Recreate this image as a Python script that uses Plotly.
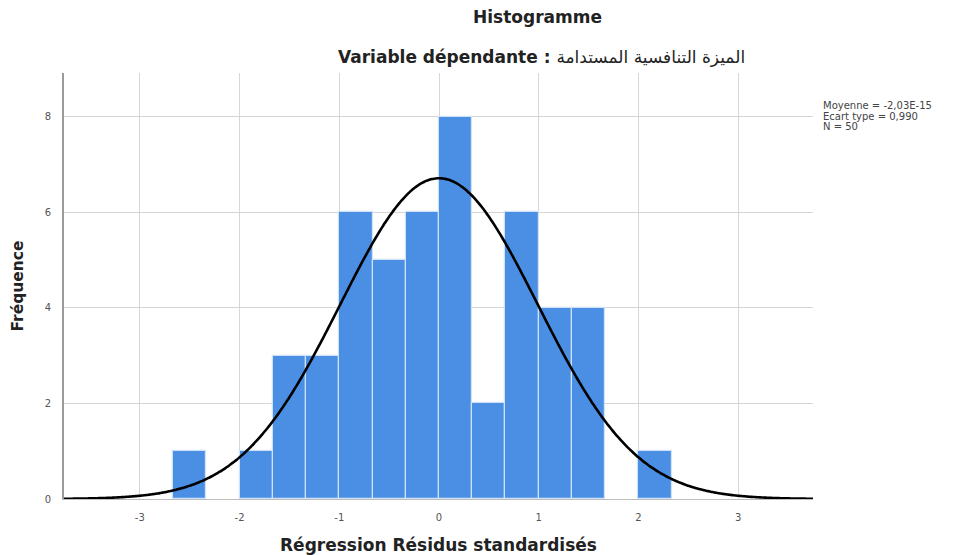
import numpy as np
import plotly.graph_objects as go

# Histogram of standardized regression residuals (bin width 1/3)
bin_left = [-8/3, -2, -5/3, -4/3, -1, -2/3, -1/3, 0, 1/3, 2/3, 1, 4/3, 2]
counts = [1, 1, 3, 3, 6, 5, 6, 8, 2, 6, 4, 4, 1]
bin_width = 1/3

# Summary statistics shown beside the plot
mean_val = -2.03e-15
std_val = 0.990
n_obs = 50

x_ticks = [-3, -2, -1, 0, 1, 2, 3]
y_ticks = [0, 2, 4, 6, 8]

x_range = [-3.76, 3.75]
y_range = [0, 8.92]

centers = [b + bin_width / 2 for b in bin_left]

# Normal curve scaled to counts
xc = np.linspace(x_range[0], x_range[1], 400)
yc = n_obs * bin_width * np.exp(-0.5 * ((xc - mean_val) / std_val) ** 2) / (std_val * np.sqrt(2 * np.pi))

fig = go.Figure()
fig.add_trace(go.Bar(
    x=centers, y=counts, width=bin_width,
    marker=dict(color="#4a8fe3", line=dict(color="#cfe2f8", width=1.2)),
    hoverinfo="x+y",
))
fig.add_trace(go.Scatter(
    x=xc, y=yc, mode="lines",
    line=dict(color="#000000", width=2.6, shape="spline"),
    hoverinfo="skip",
))

PLOT_L, PLOT_R, PLOT_T, PLOT_B = 64, 813, 73, 499
plot_h = PLOT_B - PLOT_T


def px_to_paper_y(py):
    return (PLOT_B - py) / plot_h


def px_to_paper_x(px):
    return (px - PLOT_L) / (PLOT_R - PLOT_L)


head_font = dict(family="DejaVu Sans", size=17, color="#222222")

stats_lines = [
    ("Moyenne = " + f"{mean_val:.2E}".replace(".", ","), 105.5),
    ("Ecart type = " + f"{std_val:.3f}".replace(".", ","), 116),
    (f"N = {n_obs}", 126.5),
]

annotations = [
    dict(text="<b>Histogramme</b>", xref="paper", yref="paper",
         x=px_to_paper_x(537), y=px_to_paper_y(17), xanchor="center", yanchor="middle",
         showarrow=False, font=head_font),
    dict(text="<b>Variable dépendante : </b>الميزة التنافسية المستدامة", xref="paper", yref="paper",
         x=px_to_paper_x(541), y=px_to_paper_y(57), xanchor="center", yanchor="middle",
         showarrow=False, font=head_font),
]
for txt, py in stats_lines:
    annotations.append(dict(
        text=txt, xref="paper", yref="paper", x=px_to_paper_x(821), y=px_to_paper_y(py),
        xanchor="left", yanchor="middle", align="left", showarrow=False,
        font=dict(family="DejaVu Sans", size=10, color="#444444")))

fig.update_layout(
    width=957, height=555,
    margin=dict(l=PLOT_L, r=957 - PLOT_R, t=PLOT_T, b=555 - PLOT_B),
    paper_bgcolor="white", plot_bgcolor="white",
    showlegend=False, bargap=0,
    xaxis=dict(
        range=x_range, tickvals=x_ticks, ticktext=[str(v) for v in x_ticks],
        showgrid=True, gridcolor="#d6d6d6", gridwidth=1,
        zeroline=False, showline=True, linecolor="#bdbdbd", linewidth=1,
        ticks="", ticklabelstandoff=9, automargin=False,
        tickfont=dict(family="DejaVu Sans", size=10, color="#555555"),
        title=dict(text="<b>Régression Résidus standardisés</b>",
                   font=dict(family="DejaVu Sans", size=17, color="#222222"), standoff=24),
    ),
    yaxis=dict(
        range=y_range, tickvals=y_ticks, ticktext=[str(v) for v in y_ticks],
        showgrid=True, gridcolor="#d6d6d6", gridwidth=1,
        zeroline=False, showline=True, linecolor="#9a9a9a", linewidth=2,
        ticks="", ticklabelstandoff=9, automargin=False,
        tickfont=dict(family="DejaVu Sans", size=10, color="#555555"),
        title=dict(text="<b>Fréquence</b>",
                   font=dict(family="DejaVu Sans", size=15.5, color="#222222"), standoff=17),
    ),
    annotations=annotations,
)

fig.write_html("out.html")
